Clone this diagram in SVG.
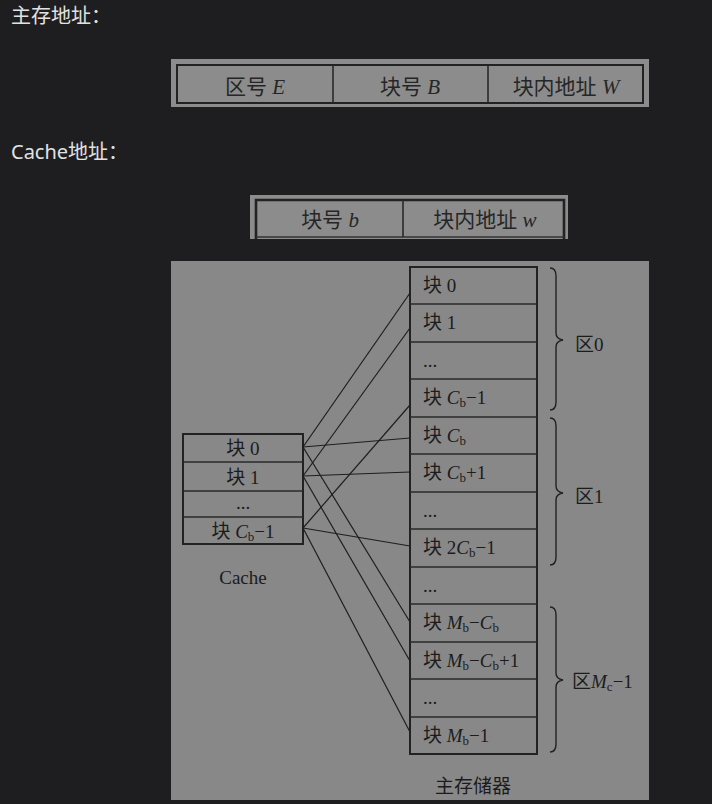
<svg xmlns="http://www.w3.org/2000/svg" width="712" height="804" viewBox="0 0 712 804">
<style>
.hd{font-family:"Noto Sans","Noto Sans CJK SC",sans-serif;font-size:20px;fill:#e2e2e2}
.t{font-family:"Liberation Serif","Noto Sans CJK SC",serif;font-size:21px;fill:#262626}
.s{font-family:"Liberation Serif","Noto Sans CJK SC",serif;font-size:19px;fill:#1c1c1c}
.it{font-style:italic}
.sub{font-size:13px}
.box{fill:none;stroke:#222;stroke-width:2}
.cell{fill:none;stroke:#2a2a2a;stroke-width:1.6}
.con line{stroke:#1e1e1e;stroke-width:1.2}
.br{fill:none;stroke:#222;stroke-width:1.4}
</style>
<rect width="712" height="804" fill="#1e1e20"/>
<text class="hd" x="11" y="23">主存地址：</text>
<text class="hd" x="11" y="159">Cache地址：</text>

<g id="main-address">
<rect x="171" y="59" width="478" height="48" fill="#8c8c8c"/>
<rect class="box" x="177" y="65" width="466" height="38" stroke-width="2.6"/>
<line class="cell" x1="333" y1="65" x2="333" y2="103"/>
<line class="cell" x1="488" y1="65" x2="488" y2="103"/>
<text class="t" x="255" y="94" text-anchor="middle">区号 <tspan class="it">E</tspan></text>
<text class="t" x="410" y="94" text-anchor="middle">块号 <tspan class="it">B</tspan></text>
<text class="t" x="566" y="94" text-anchor="middle">块内地址 <tspan class="it">W</tspan></text>
</g>

<g id="cache-address">
<rect x="250" y="195" width="318" height="44" fill="#8c8c8c"/>
<path d="M256,239 V200 H564 V239" fill="none" stroke="#222" stroke-width="2.6"/>
<line x1="256" y1="237" x2="564" y2="237" stroke="#333" stroke-width="1.4"/>
<line class="cell" x1="403" y1="200" x2="403" y2="237"/>
<text class="t" x="330" y="227" text-anchor="middle">块号 <tspan class="it">b</tspan></text>
<text class="t" x="485" y="227" text-anchor="middle">块内地址 <tspan class="it">w</tspan></text>
</g>

<rect x="171" y="261" width="478" height="539" fill="#888888"/>

<g id="cache">
<rect class="box" x="183" y="434" width="120" height="110"/>
<line class="cell" x1="183" y1="462" x2="303" y2="462"/>
<line class="cell" x1="183" y1="491" x2="303" y2="491"/>
<line class="cell" x1="183" y1="517" x2="303" y2="517"/>
<text class="s" x="243" y="455" text-anchor="middle">块 0</text>
<text class="s" x="243" y="484" text-anchor="middle">块 1</text>
<text class="s" x="243" y="509" text-anchor="middle">...</text>
<text class="s" x="243" y="538" text-anchor="middle">块 <tspan class="it">C</tspan><tspan class="sub" dy="3">b</tspan><tspan dy="-3">−1</tspan></text>
<text class="s" x="243" y="584" text-anchor="middle">Cache</text>
</g>

<g id="main-memory">
<rect class="box" x="410" y="267" width="127" height="487"/>
<line class="cell" x1="410" y1="304" x2="537" y2="304"/>
<line class="cell" x1="410" y1="342" x2="537" y2="342"/>
<line class="cell" x1="410" y1="379" x2="537" y2="379"/>
<line class="cell" x1="410" y1="417" x2="537" y2="417"/>
<line class="cell" x1="410" y1="454" x2="537" y2="454"/>
<line class="cell" x1="410" y1="492" x2="537" y2="492"/>
<line class="cell" x1="410" y1="529" x2="537" y2="529"/>
<line class="cell" x1="410" y1="567" x2="537" y2="567"/>
<line class="cell" x1="410" y1="604" x2="537" y2="604"/>
<line class="cell" x1="410" y1="642" x2="537" y2="642"/>
<line class="cell" x1="410" y1="679" x2="537" y2="679"/>
<line class="cell" x1="410" y1="717" x2="537" y2="717"/>
<text class="s" x="423" y="292">块 0</text>
<text class="s" x="423" y="329">块 1</text>
<text class="s" x="423" y="367">...</text>
<text class="s" x="423" y="404">块 <tspan class="it">C</tspan><tspan class="sub" dy="3">b</tspan><tspan dy="-3">−1</tspan></text>
<text class="s" x="423" y="442">块 <tspan class="it">C</tspan><tspan class="sub" dy="3">b</tspan></text>
<text class="s" x="423" y="479">块 <tspan class="it">C</tspan><tspan class="sub" dy="3">b</tspan><tspan dy="-3">+1</tspan></text>
<text class="s" x="423" y="517">...</text>
<text class="s" x="423" y="554">块 2<tspan class="it">C</tspan><tspan class="sub" dy="3">b</tspan><tspan dy="-3">−1</tspan></text>
<text class="s" x="423" y="592">...</text>
<text class="s" x="423" y="629">块 <tspan class="it">M</tspan><tspan class="sub" dy="3">b</tspan><tspan dy="-3">−</tspan><tspan class="it">C</tspan><tspan class="sub" dy="3">b</tspan></text>
<text class="s" x="423" y="667">块 <tspan class="it">M</tspan><tspan class="sub" dy="3">b</tspan><tspan dy="-3">−</tspan><tspan class="it">C</tspan><tspan class="sub" dy="3">b</tspan><tspan dy="-3">+1</tspan></text>
<text class="s" x="423" y="704">...</text>
<text class="s" x="423" y="742">块 <tspan class="it">M</tspan><tspan class="sub" dy="3">b</tspan><tspan dy="-3">−1</tspan></text>
<text class="s" x="473" y="793" text-anchor="middle" font-size="19">主存储器</text>
</g>

<g id="zones">
<path class="br" d="M550,268 Q556,268 556,276 L556,333 Q556,339 563,340 Q556,341 556,347 L556,402 Q556,410 550,410"/>
<path class="br" d="M550,418 Q556,418 556,426 L556,486 Q556,492 563,493 Q556,494 556,500 L556,557 Q556,565 550,565"/>
<path class="br" d="M550,607 Q556,607 556,615 L556,673 Q556,679 563,680 Q556,681 556,687 L556,744 Q556,752 550,752"/>
<text class="s" x="575" y="351">区0</text>
<text class="s" x="575" y="503">区1</text>
<text class="s" x="572" y="688">区<tspan class="it">M</tspan><tspan class="sub" dy="3">c</tspan><tspan dy="-3">−1</tspan></text>
</g>

<g id="connectors" class="con">
<line x1="303" y1="447" x2="410" y2="293"/>
<line x1="303" y1="447" x2="410" y2="438"/>
<line x1="303" y1="447" x2="410" y2="622"/>
<line x1="303" y1="476" x2="410" y2="328"/>
<line x1="303" y1="476" x2="410" y2="472"/>
<line x1="303" y1="476" x2="410" y2="661"/>
<line x1="303" y1="528" x2="410" y2="405"/>
<line x1="303" y1="528" x2="410" y2="546"/>
<line x1="303" y1="528" x2="410" y2="732"/>
</g>
</svg>
